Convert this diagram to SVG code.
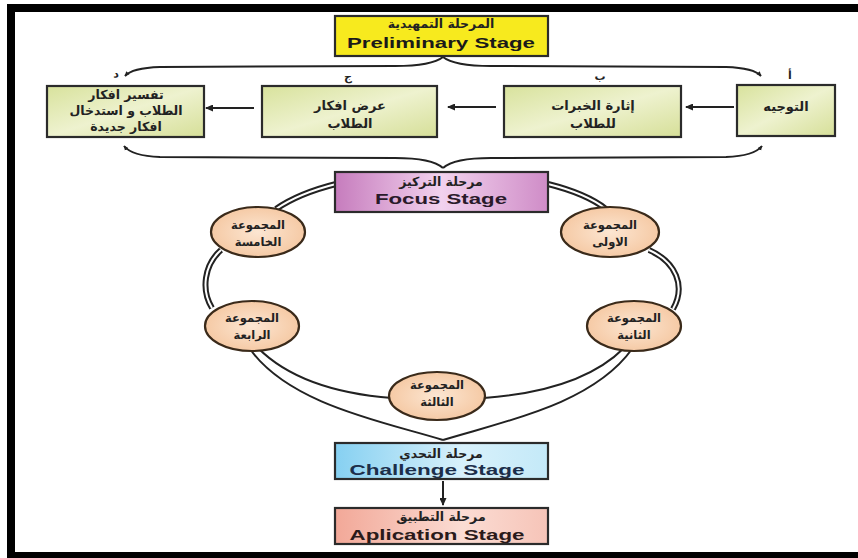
<svg xmlns="http://www.w3.org/2000/svg" width="858" height="558" viewBox="0 0 858 558">
<defs>
<style>
.ar{font-family:"DejaVu Sans",sans-serif;font-weight:bold;fill:#222;text-anchor:middle;}
.en{font-family:"Liberation Sans",Arial,sans-serif;font-weight:bold;text-anchor:middle;}
.box{stroke:#2b2b2b;stroke-width:2.2;}
.ell{stroke:#3a2a1a;stroke-width:2.2;fill:url(#gPeach);}
.dbl{fill:none;stroke:#222;stroke-width:6;}
.dblw{fill:none;stroke:#fff;stroke-width:2;}
.ln{fill:none;stroke:#222;stroke-width:2;}
</style>
<marker id="ah" viewBox="0 0 8 7" refX="7" refY="3.5" markerWidth="5" markerHeight="5" orient="auto" markerUnits="userSpaceOnUse">
<path d="M0,0 L8,3.5 L0,7 z" fill="#222"/>
</marker>
<marker id="ah2" viewBox="0 0 8 7" refX="7" refY="3.5" markerWidth="8" markerHeight="7" orient="auto" markerUnits="userSpaceOnUse">
<path d="M0,0 L8,3.5 L0,7 z" fill="#222"/>
</marker>
<linearGradient id="gGreen" x1="0" y1="0" x2="1" y2="1">
<stop offset="0" stop-color="#d8e29c"/><stop offset="0.5" stop-color="#eef2cf"/><stop offset="1" stop-color="#d6df98"/>
</linearGradient>
<linearGradient id="gPink" x1="0" y1="0" x2="1" y2="0">
<stop offset="0" stop-color="#c67cbd"/><stop offset="0.5" stop-color="#f2d2ee"/><stop offset="1" stop-color="#cf8cc7"/>
</linearGradient>
<linearGradient id="gBlue" x1="0" y1="0" x2="1" y2="0">
<stop offset="0" stop-color="#86d0f1"/><stop offset="0.6" stop-color="#d8f1fb"/><stop offset="1" stop-color="#c4e9f8"/>
</linearGradient>
<linearGradient id="gSalmon" x1="0" y1="0" x2="1" y2="0">
<stop offset="0" stop-color="#f2a898"/><stop offset="0.6" stop-color="#fbdcd3"/><stop offset="1" stop-color="#f6c4b8"/>
</linearGradient>
<radialGradient id="gPeach" cx="0.5" cy="0.5" r="0.6">
<stop offset="0" stop-color="#fce6d2"/><stop offset="1" stop-color="#f4c49c"/>
</radialGradient>
</defs>

<rect x="0" y="0" width="858" height="558" fill="#ffffff"/>
<g id="frame" fill="#000">
<rect x="7" y="4" width="851" height="8"/>
<rect x="7" y="4" width="8" height="554"/>
<rect x="7" y="552" width="851" height="6"/>
</g>

<g id="connectors">
<path class="ln" d="M443,57 Q432,66 395,66 L160,67 Q132,68 125,76" marker-end="url(#ah)"/>
<path class="ln" d="M443,57 Q454,66 491,66 L726,67 Q754,68 761,76" marker-end="url(#ah)"/>
<path class="ln" d="M443,168 Q432,158 395,158 L160,157 Q132,156 124,146" marker-end="url(#ah)"/>
<path class="ln" d="M443,168 Q454,158 491,158 L726,157 Q754,156 762,146" marker-end="url(#ah)"/>
<path class="ln" d="M734,107 L686,107" marker-end="url(#ah2)"/>
<path class="ln" d="M496,107 L448,107" marker-end="url(#ah2)"/>
<path class="ln" d="M254,108 L206,108" marker-end="url(#ah2)"/>
<path class="dbl" d="M336,184 C312,190 292,198 276,209"/>
<path class="dbl" d="M548,184 C572,190 592,198 606,209"/>
<path class="dbl" d="M649,250 C676,262 686,286 673,309"/>
<path class="dbl" d="M221,250 C204,265 201,290 212,308"/>
<path class="dblw" d="M336,184 C312,190 292,198 276,209"/>
<path class="dblw" d="M548,184 C572,190 592,198 606,209"/>
<path class="dblw" d="M649,250 C676,262 686,286 673,309"/>
<path class="dblw" d="M221,250 C204,265 201,290 212,308"/>
<path class="ln" d="M258,348 C290,380 340,394 392,398"/>
<path class="ln" d="M250,349 C290,405 385,422 443,440"/>
<path class="ln" d="M624,348 C592,380 538,394 484,398"/>
<path class="ln" d="M632,349 C592,405 501,422 443,440"/>
<path class="ln" d="M443,481 L443,505" marker-end="url(#ah2)"/>
</g>

<g id="preliminary">
<rect class="box" x="335" y="16" width="213" height="40" fill="#f7ea1e"/>
<text class="ar" x="441" y="28" font-size="12.5">المرحلة التمهيدية</text>
<text class="en" x="441" y="48" font-size="15" fill="#1a1a1a" textLength="188" lengthAdjust="spacingAndGlyphs">Preliminary Stage</text>
</g>

<g id="step-a">
<rect class="box" x="737" y="85" width="98" height="51" fill="url(#gGreen)"/>
<text class="ar" x="786" y="111" font-size="13">التوجيه</text>
<text class="ar" x="790" y="79" font-size="11">أ</text>
</g>

<g id="step-b">
<rect class="box" x="504" y="86" width="177" height="51" fill="url(#gGreen)"/>
<text class="ar" x="593" y="110" font-size="13">إثارة الخبرات</text>
<text class="ar" x="593" y="128" font-size="13">للطلاب</text>
<text class="ar" x="600" y="80" font-size="11">ب</text>
</g>

<g id="step-c">
<rect class="box" x="262" y="86" width="175" height="51" fill="url(#gGreen)"/>
<text class="ar" x="350" y="110" font-size="13">عرض افكار</text>
<text class="ar" x="350" y="128" font-size="13">الطلاب</text>
<text class="ar" x="348" y="80" font-size="11">ج</text>
</g>

<g id="step-d">
<rect class="box" x="47" y="86" width="157" height="51" fill="url(#gGreen)"/>
<text class="ar" x="126" y="99" font-size="12.5">تفسير افكار</text>
<text class="ar" x="126" y="115" font-size="12.5">الطلاب و استدخال</text>
<text class="ar" x="126" y="131" font-size="12.5">افكار جديدة</text>
<text class="ar" x="116" y="78" font-size="11">د</text>
</g>

<g id="focus">
<rect class="box" x="335" y="172" width="213" height="40" fill="url(#gPink)"/>
<text class="ar" x="441" y="186" font-size="12.5">مرحلة التركيز</text>
<text class="en" x="441" y="204" font-size="15" fill="#2a1a2a" textLength="132" lengthAdjust="spacingAndGlyphs">Focus Stage</text>
</g>

<g id="group1">
<ellipse class="ell" cx="610" cy="232" rx="49" ry="25"/>
<text class="ar" x="610" y="229" font-size="11.5">المجموعة</text>
<text class="ar" x="610" y="246" font-size="11.5">الاولى</text>
</g>
<g id="group2">
<ellipse class="ell" cx="634" cy="326" rx="47" ry="25"/>
<text class="ar" x="634" y="322" font-size="11.5">المجموعة</text>
<text class="ar" x="634" y="339" font-size="11.5">الثانية</text>
</g>
<g id="group3">
<ellipse class="ell" cx="437" cy="396" rx="48" ry="24"/>
<text class="ar" x="437" y="389" font-size="11.5">المجموعة</text>
<text class="ar" x="437" y="406" font-size="11.5">الثالثة</text>
</g>
<g id="group4">
<ellipse class="ell" cx="252" cy="326" rx="47" ry="25"/>
<text class="ar" x="252" y="322" font-size="11.5">المجموعة</text>
<text class="ar" x="252" y="339" font-size="11.5">الرابعة</text>
</g>
<g id="group5">
<ellipse class="ell" cx="258" cy="232" rx="47" ry="25"/>
<text class="ar" x="258" y="229" font-size="11.5">المجموعة</text>
<text class="ar" x="258" y="246" font-size="11.5">الخامسة</text>
</g>

<g id="challenge">
<rect class="box" x="335" y="443" width="213" height="36" fill="url(#gBlue)"/>
<text class="ar" x="441" y="458" font-size="12.5">مرحلة التحدي</text>
<text class="en" x="437" y="475" font-size="15" fill="#1c2e4a" textLength="175" lengthAdjust="spacingAndGlyphs">Challenge Stage</text>
</g>

<g id="application">
<rect class="box" x="335" y="508" width="213" height="36" fill="url(#gSalmon)"/>
<text class="ar" x="441" y="521" font-size="12.5">مرحلة التطبيق</text>
<text class="en" x="437" y="540" font-size="15" fill="#2a1a1a" textLength="175" lengthAdjust="spacingAndGlyphs">Aplication Stage</text>
</g>
</svg>
